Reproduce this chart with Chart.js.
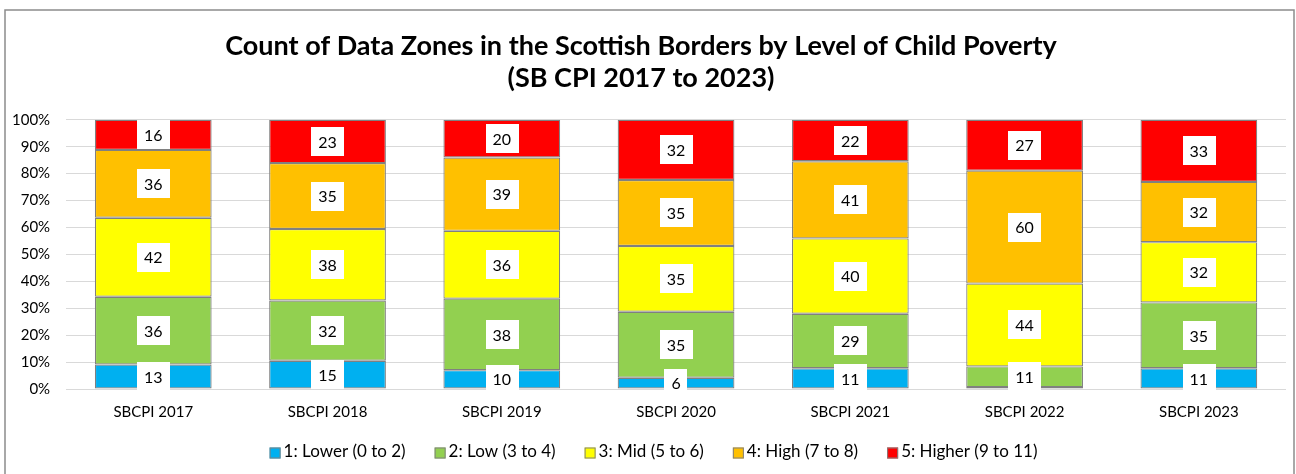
<!DOCTYPE html>
<html>
<head>
<meta charset="utf-8">
<script src="https://cdn.jsdelivr.net/npm/chart.js@4/dist/chart.umd.min.js"></script>
<style>
html,body{margin:0;padding:0;background:#fff;}
#c{display:block;}
</style>
</head>
<body>
<div style="width:1296px;height:474px;position:relative"><canvas id="c" width="1296" height="474"></canvas></div>
<script>
const categories = ["SBCPI 2017","SBCPI 2018","SBCPI 2019","SBCPI 2020","SBCPI 2021","SBCPI 2022","SBCPI 2023"];
const seriesNames = ["1: Lower (0 to 2)","2: Low (3 to 4)","3: Mid (5 to 6)","4: High (7 to 8)","5: Higher (9 to 11)"];
const lower  = [13, 15, 10, 6, 11, 1, 11];
const low    = [36, 32, 38, 35, 29, 11, 35];
const mid    = [42, 38, 36, 35, 40, 44, 32];
const high   = [36, 35, 39, 35, 41, 60, 32];
const higher = [16, 23, 20, 32, 22, 27, 33];
const colors = ["#00b0f0","#92d050","#ffff00","#ffc000","#ff0000"];
const yTicks = [0,10,20,30,40,50,60,70,80,90,100];
const titleLines = ["Count of Data Zones in the Scottish Borders by Level of Child Poverty","(SB CPI 2017 to 2023)"];

const counts = [lower, low, mid, high, higher];
const totals = categories.map((_, i) => counts.reduce((s, a) => s + a[i], 0));
const FONT = "Lato, 'Open Sans', sans-serif";

const datasets = counts.map((arr, k) => ({
  label: seriesNames[k],
  data: arr.map((v, i) => v / totals[i] * 100),
  counts: arr,
  backgroundColor: colors[k],
  borderColor: "#808080",
  borderWidth: 1.2,
  borderSkipped: false,
  barPercentage: 0.67,
  categoryPercentage: 1.0
}));

const framePlugin = {
  id: "frame",
  beforeDraw(chart) {
    const ctx = chart.ctx;
    ctx.save();
    ctx.fillStyle = "#fff";
    ctx.fillRect(0, 0, chart.width, chart.height);
    ctx.strokeStyle = "#8c8c8c";
    ctx.lineWidth = 1.5;
    ctx.strokeRect(5, 10, 1289, 470);
    ctx.restore();
  }
};

const labelPlugin = {
  id: "boxLabels",
  afterDatasetsDraw(chart) {
    const ctx = chart.ctx;
    ctx.save();
    ctx.font = "16px " + FONT;
    ctx.textAlign = "center";
    ctx.textBaseline = "middle";
    chart.data.datasets.forEach((ds, di) => {
      const meta = chart.getDatasetMeta(di);
      meta.data.forEach((el, i) => {
        const v = ds.counts[i];
        if (v < 2) return;
        const cy = (el.y + el.base) / 2;
        const txt = String(v);
        const w = ctx.measureText(txt).width + 14;
        const h = 29;
        ctx.fillStyle = "#fff";
        ctx.fillRect(Math.round(el.x - w / 2), Math.round(cy - h / 2), Math.round(w), h);
        ctx.fillStyle = "#000";
        ctx.fillText(txt, el.x, cy + 1);
      });
    });
    ctx.restore();
  }
};

const legendPlugin = {
  id: "customLegend",
  afterDraw(chart) {
    const ctx = chart.ctx;
    ctx.save();
    ctx.font = "17px " + FONT;
    ctx.textBaseline = "middle";
    ctx.textAlign = "left";
    const box = 11, gap = 3, spacing = 29, y = 452;
    const items = chart.data.datasets.map(d => ({ text: d.label, color: d.backgroundColor, w: box + gap + ctx.measureText(d.label).width }));
    const total = items.reduce((s, it) => s + it.w, 0) + spacing * (items.length - 1);
    let x = 653.5 - total / 2;
    items.forEach(it => {
      ctx.fillStyle = it.color;
      ctx.fillRect(x, y - box / 2 + 1, box, box);
      ctx.strokeStyle = "#808080";
      ctx.lineWidth = 1;
      ctx.strokeRect(x + 0.5, y - box / 2 + 1.5, box - 1, box - 1);
      ctx.fillStyle = "#000";
      ctx.fillText(it.text, x + box + gap, y);
      x += it.w + spacing;
    });
    ctx.restore();
  }
};

new Chart(document.getElementById("c"), {
  type: "bar",
  data: { labels: categories, datasets },
  plugins: [framePlugin, labelPlugin, legendPlugin],
  options: {
    responsive: false,
    animation: false,
    layout: { padding: { left: -4, right: 10, top: 28, bottom: 47 } },
    plugins: {
      title: {
        display: true,
        text: titleLines,
        color: "#000",
        font: { family: FONT, size: 27, weight: "bold", lineHeight: 1.2 },
        padding: { top: 2, bottom: 25 }
      },
      legend: { display: false },
      tooltip: { enabled: false }
    },
    scales: {
      x: {
        stacked: true,
        grid: { display: false },
        border: { display: false },
        ticks: { color: "#000", font: { family: FONT, size: 15 }, padding: 6 }
      },
      y: {
        stacked: true,
        min: 0,
        max: 100,
        afterBuildTicks(scale) { scale.ticks = yTicks.map(v => ({ value: v })); },
        grid: { color: "#d9d9d9", lineWidth: 1, drawTicks: false },
        border: { display: false },
        ticks: {
          color: "#000",
          font: { family: FONT, size: 15 },
          padding: 16,
          callback: v => v + "%"
        }
      }
    }
  }
});
</script>
</body>
</html>
